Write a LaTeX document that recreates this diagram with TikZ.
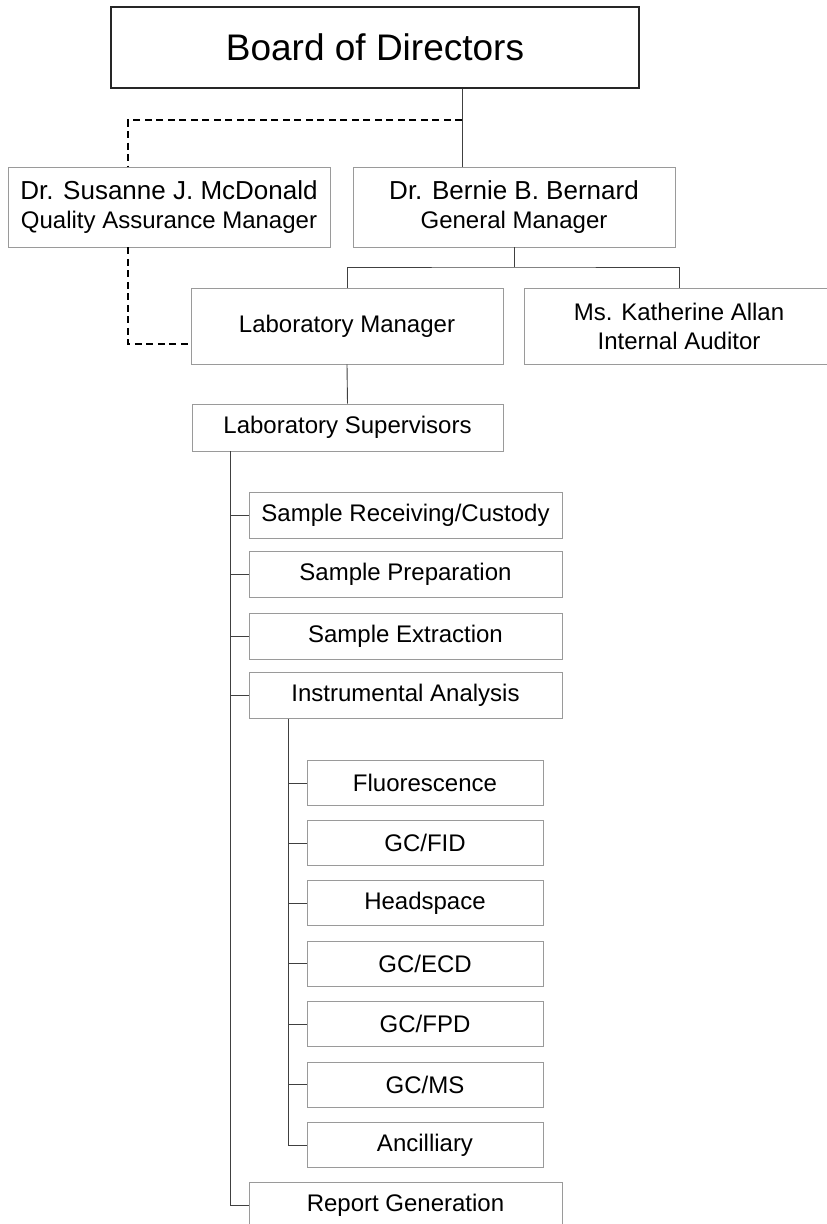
\documentclass[tikz,border=0pt]{standalone}
\usepackage{fontspec}
\setmainfont{Liberation Sans}
\definecolor{boxgray}{HTML}{9A9A9A}
\definecolor{linegray}{HTML}{404040}
\tikzset{
  orgbox/.style={draw=boxgray, line width=0.9pt, fill=white, inner sep=0pt, align=center,
    font=\fontsize{24}{29}\selectfont},
  bigbox/.style={draw=black!85, line width=1.3pt, fill=white, inner sep=0pt, align=center,
    font=\fontsize{37}{42}\selectfont},
  link/.style={draw=linegray, line width=0.9pt},
  dlink/.style={draw=black, line width=1.6pt, dash pattern=on 7pt off 4.5pt},
}
\begin{document}
\begin{tikzpicture}[x=1pt,y=-1pt]
\useasboundingbox (0,0) rectangle (827,1224);

\node[bigbox, minimum width=528pt, minimum height=81pt] (board) at (375,47.5) {Board of Directors};

\node[orgbox, minimum width=322pt, minimum height=80pt] (sus) at (169,207)
  {{\fontsize{26}{29}\selectfont Dr. Susanne J. McDonald}\\Quality Assurance Manager};
\node[orgbox, minimum width=322pt, minimum height=80pt] (bern) at (514,207)
  {{\fontsize{26}{29}\selectfont Dr. Bernie B. Bernard}\\General Manager};

\node[orgbox, minimum width=312pt, minimum height=76pt] (labm) at (347,326) {Laboratory Manager};
\node[orgbox, minimum width=310pt, minimum height=76pt] (kath) at (679,326)
  {Ms. Katherine Allan\\Internal Auditor};

\node[orgbox, minimum width=311pt, minimum height=47pt] (sup) at (347.5,427.5) {Laboratory Supervisors};

\node[orgbox, minimum width=313pt, minimum height=46pt] (rec) at (405.5,515) {Sample Receiving/Custody};
\node[orgbox, minimum width=313pt, minimum height=46pt] (prep) at (405.5,574.5) {Sample Preparation};
\node[orgbox, minimum width=313pt, minimum height=46pt] (ext) at (405.5,636) {Sample Extraction};
\node[orgbox, minimum width=313pt, minimum height=46pt] (ins) at (405.5,695.5) {Instrumental Analysis};

\node[orgbox, minimum width=236pt, minimum height=45pt] (flu) at (425,783) {Fluorescence};
\node[orgbox, minimum width=236pt, minimum height=45pt] (fid) at (425,843) {GC/FID};
\node[orgbox, minimum width=236pt, minimum height=45pt] (head) at (425,903) {Headspace};
\node[orgbox, minimum width=236pt, minimum height=45pt] (ecd) at (425,963.5) {GC/ECD};
\node[orgbox, minimum width=236pt, minimum height=45pt] (fpd) at (425,1024) {GC/FPD};
\node[orgbox, minimum width=236pt, minimum height=45pt] (ms) at (425,1084.5) {GC/MS};
\node[orgbox, minimum width=236pt, minimum height=45pt] (anc) at (425,1145) {Ancilliary};

\node[orgbox, minimum width=313pt, minimum height=46pt] (rep) at (405.5,1205) {Report Generation};

% junction coordinates
\coordinate (j1) at (462,120);
\coordinate (d1) at (128,120);
\coordinate (d2) at (128,344);
\coordinate (bus) at (514,267);
\coordinate (m) at (230,0);
\coordinate (s) at (288,0);

% board to general manager
\draw[link] (j1 |- board.south) -- (j1 |- bern.north);
% dashed QA line
\draw[dlink] (j1) -- (d1) -- (d1 |- sus.north);
\draw[dlink] (d1 |- sus.south) -- (d2) -- (d2 -| labm.west);
% general manager bus
\draw[link] (bern.south) -- (bus);
\draw[link] (labm.north) |- (bus) -| (kath.north);
\draw[link] (labm.south) -- (sup.north);
% main vertical
\draw[link] (m |- sup.south) |- (rep.west);
\foreach \n in {rec,prep,ext,ins} \draw[link] (m |- \n.west) -- (\n.west);
% instrumental sub-vertical
\draw[link] (s |- ins.south) |- (anc.west);
\foreach \n in {flu,fid,head,ecd,fpd,ms} \draw[link] (s |- \n.west) -- (\n.west);
\end{tikzpicture}
\end{document}
